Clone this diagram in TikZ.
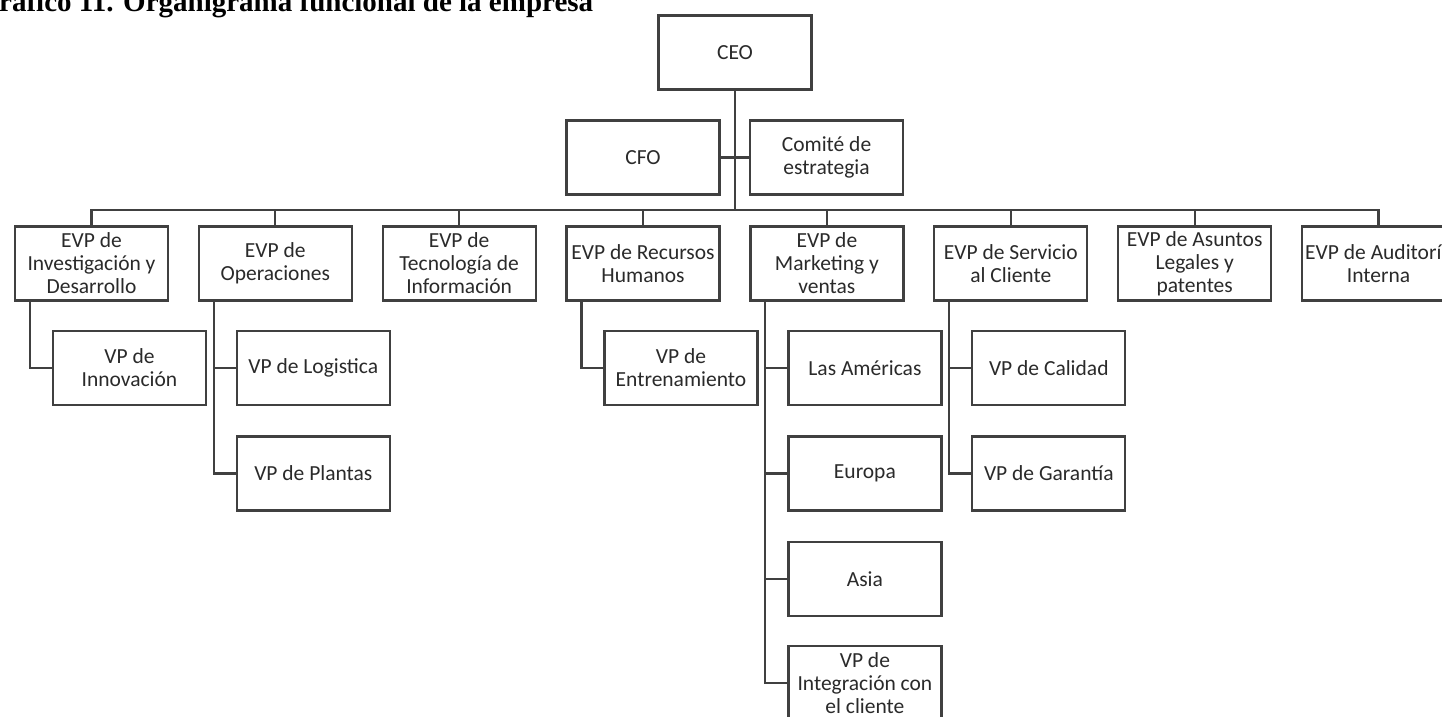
\documentclass[tikz,border=0pt]{standalone}
\usepackage{fontspec}
\setmainfont{Carlito}
\newfontfamily\titlefont{Liberation Serif}
\usetikzlibrary{positioning,calc}
\definecolor{linecol}{HTML}{404040}
\definecolor{txtcol}{HTML}{2A2A2A}
\begin{document}
\begin{tikzpicture}[x=1pt,y=-1pt,
  orgbox/.style={draw=linecol,line width=2.2pt,minimum width=153pt,minimum height=74pt,
    inner sep=0pt,align=center,text=txtcol,font=\fontsize{21.5}{23}\selectfont},
  link/.style={draw=linecol,line width=2.2pt}]
\useasboundingbox (0,0) rectangle (1442,716);
\fill[white] (0,0) rectangle (1442,716);
% title (clipped by page edge, as in the reference)
\node[anchor=base west,inner sep=0pt,font=\titlefont\bfseries\fontsize{29}{32}\selectfont] (title) at (-1,11) {\llap{G}ráfico 11. Organigrama funcional de la empresa};
% top
\node[orgbox] (ceo) at (735,52.5) {CEO};
\node[orgbox] (cfo) at (643,157.5) {CFO};
\node[orgbox] (com) at (826.5,157.5) {Comité de\\estrategia};
\coordinate (bus) at (735,210);
\draw[link] (ceo.south) -- (bus);
\draw[link] (cfo.east) -- (com.west);
% EVPs
\def\ey{263.5}
\node[orgbox] (e1) at (91.5,\ey) {EVP de\\Investigación y\\Desarrollo};
\node[orgbox] (e2) at (275.3,\ey) {EVP de\\Operaciones};
\node[orgbox] (e3) at (459.1,\ey) {EVP de\\Tecnología de\\Información};
\node[orgbox] (e4) at (643,\ey) {EVP de Recursos\\Humanos};
\node[orgbox] (e5) at (826.9,\ey) {EVP de\\Marketing y\\ventas};
\node[orgbox] (e6) at (1010.8,\ey) {EVP de Servicio\\al Cliente};
\node[orgbox] (e7) at (1194.7,\ey) {EVP de Asuntos\\Legales y\\patentes};
\node[orgbox] (e8) at (1378.5,\ey) {EVP de Auditoría\\Interna};
\foreach \n in {e1,e2,e3,e4,e5,e6,e7,e8} \draw[link] (bus) -| (\n.north);
% children
\node[orgbox] (c11) at (129.5,368) {VP de\\Innovación};
\node[orgbox] (c21) at (313.3,368) {VP de Logistica};
\node[orgbox] (c22) at (313.3,473.5) {VP de Plantas};
\node[orgbox] (c41) at (681,368) {VP de\\Entrenamiento};
\node[orgbox] (c51) at (864.9,368) {Las Américas};
\node[orgbox] (c52) at (864.9,473.5) {Europa};
\node[orgbox] (c53) at (864.9,579) {Asia};
\node[orgbox] (c54) at (864.9,683) {VP de\\Integración con\\el cliente};
\node[orgbox] (c61) at (1048.8,368) {VP de Calidad};
\node[orgbox] (c62) at (1048.8,473.5) {VP de Garantía};
\draw[link] ([xshift=16pt]e1.south west) |- (c11.west);
\foreach \c in {c21,c22} \draw[link] ([xshift=16pt]e2.south west) |- (\c.west);
\draw[link] ([xshift=16pt]e4.south west) |- (c41.west);
\foreach \c in {c51,c52,c53,c54} \draw[link] ([xshift=16pt]e5.south west) |- (\c.west);
\foreach \c in {c61,c62} \draw[link] ([xshift=16pt]e6.south west) |- (\c.west);
\end{tikzpicture}
\end{document}
